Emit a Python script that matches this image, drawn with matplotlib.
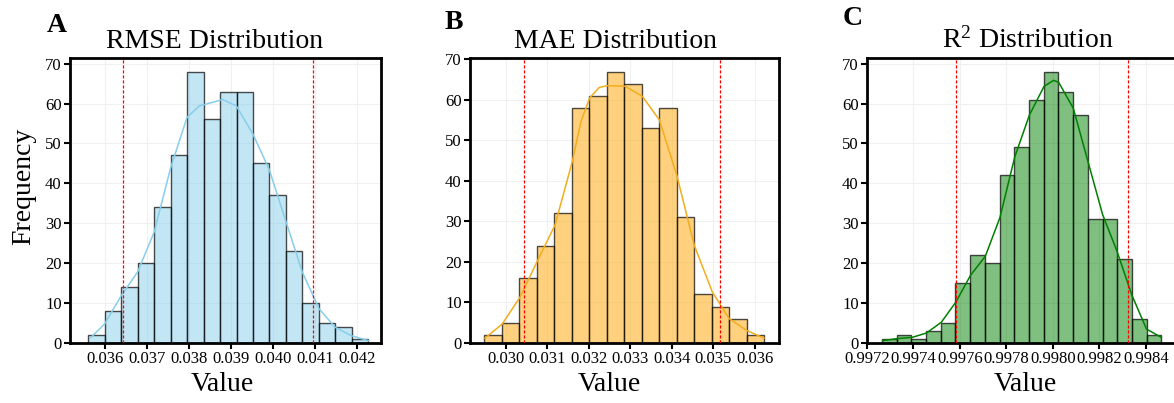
import matplotlib
matplotlib.use("Agg")
import matplotlib.pyplot as plt
import numpy as np

plt.rcParams['font.family'] = ['Liberation Serif', 'DejaVu Serif']
plt.rcParams['mathtext.fontset'] = 'custom'
plt.rcParams['mathtext.rm'] = 'Liberation Serif'
plt.rcParams['mathtext.default'] = 'regular'

# --- RMSE ---
rmse_counts = [2, 8, 14, 20, 34, 47, 68, 56, 63, 63, 45, 37, 23, 10, 5, 4, 1]
rmse_range = (0.035603, 0.042262)
rmse_ci = (0.036440, 0.040955)
rmse_kde_x = [0.035667, 0.035993, 0.036388, 0.036777, 0.037173, 0.037562, 0.037950,
              0.038243, 0.038561, 0.038797, 0.039123, 0.039520, 0.039908, 0.040304,
              0.040692, 0.041089, 0.041477, 0.041867, 0.042262]
rmse_kde_y = [1.4, 4.8, 11.9, 17.8, 27.9, 43.9, 56.5, 59.4, 60.3, 61.0, 59.4, 52.3,
              43.4, 30.4, 17.8, 8.6, 3.9, 1.8, 0.6]
rmse_ticks = [0.036, 0.037, 0.038, 0.039, 0.040, 0.041, 0.042]

# --- MAE ---
mae_counts = [2, 5, 16, 24, 32, 58, 61, 67, 64, 53, 58, 31, 12, 9, 6, 2]
mae_range = (0.029479, 0.036217)
mae_ci = (0.030448, 0.035158)
mae_kde_x = [0.029502, 0.029918, 0.030344, 0.030770, 0.031187, 0.031603, 0.031812,
             0.032022, 0.032253, 0.032445, 0.032871, 0.033288, 0.033697, 0.034116,
             0.034539, 0.034972, 0.035381, 0.035800, 0.036217]
mae_kde_y = [1.2, 4.7, 11.3, 20.4, 29.1, 44.8, 54.7, 60.5, 63.1, 63.5, 63.4, 60.9,
             55.1, 41.5, 24.1, 12.6, 6.0, 3.1, 1.2]
mae_ticks = [0.030, 0.031, 0.032, 0.033, 0.034, 0.035, 0.036]

# --- R2 ---
r2_counts = [1, 2, 1, 3, 5, 15, 22, 20, 42, 49, 61, 68, 63, 57, 31, 31, 21, 6, 2]
r2_range = (0.997264, 0.998467)
r2_ci = (0.997584, 0.998323)
r2_kde_x = [0.997267, 0.997331, 0.997394, 0.997456, 0.997520, 0.997583, 0.997646,
            0.997709, 0.997772, 0.997836, 0.997899, 0.997962, 0.998003, 0.998025,
            0.998088, 0.998150, 0.998214, 0.998276, 0.998340, 0.998403, 0.998467]
r2_kde_y = [0.6, 1.1, 1.4, 2.5, 5.2, 10.3, 17.0, 21.7, 31.4, 46.6, 57.1, 64.3, 65.8,
            65.3, 58.8, 45.7, 32.2, 23.0, 12.0, 3.5, 1.4]
r2_ticks = [0.9972, 0.9974, 0.9976, 0.9978, 0.9980, 0.9982, 0.9984]

W, H = 1174, 403
fig = plt.figure(figsize=(W / 100, H / 100), dpi=100)


def px(x, y):
    return x / W, 1 - y / H


panels = [
    dict(counts=rmse_counts, rng=rmse_range, ci=rmse_ci, kx=rmse_kde_x, ky=rmse_kde_y,
         ticks=rmse_ticks, fmt='{:.3f}', color='skyblue', line='skyblue',
         xlim=(0.035168, 0.042564), box=(70, 381), letter='A', lpos=(47, 32),
         title='RMSE Distribution', tpos=215, vpos=222),
    dict(counts=mae_counts, rng=mae_range, ci=mae_ci, kx=mae_kde_x, ky=mae_kde_y,
         ticks=mae_ticks, fmt='{:.3f}', color='orange', line='#f2ad1c',
         xlim=(0.029141, 0.036578), box=(470, 779), letter='B', lpos=(445, 29),
         title='MAE Distribution', tpos=616, vpos=609),
    dict(counts=r2_counts, rng=r2_range, ci=r2_ci, kx=r2_kde_x, ky=r2_kde_y,
         ticks=r2_ticks, fmt='{:.4f}', color='green', line='green',
         xlim=(0.997206, 0.998530), box=(867, 1176), letter='C', lpos=(843, 25),
         title='R$^2$ Distribution', tpos=1028, vpos=1025),
]

top, bottom = 58, 343
for p in panels:
    x0, x1 = p['box']
    ax = fig.add_axes([x0 / W, (H - bottom) / H, (x1 - x0) / W, (bottom - top) / H])
    counts = np.array(p['counts'])
    edges = np.linspace(p['rng'][0], p['rng'][1], len(counts) + 1)
    ax.bar(edges[:-1], counts, width=np.diff(edges), align='edge',
           color=matplotlib.colors.to_rgba(p['color'], 0.5),
           edgecolor=(0, 0, 0, 0.7), linewidth=1.0, zorder=2)
    ax.plot(p['kx'], p['ky'], color=p['line'], linewidth=1.1, zorder=3)
    for v in p['ci']:
        ax.axvline(v, color='red', linestyle='--', linewidth=0.9, dashes=(2.5, 1.5), zorder=4)

    ax.set_xlim(p['xlim'])
    ax.set_ylim(0, counts.max() * 1.05)
    ax.set_xticks(p['ticks'])
    ax.set_xticklabels([p['fmt'].format(t) for t in p['ticks']])
    ax.set_yticks(range(0, 71, 10))
    ax.grid(True, color='#f0f0f0', linewidth=0.8, zorder=0)
    ax.set_axisbelow(True)
    for s in ax.spines.values():
        s.set_linewidth(2.0)
        s.set_color('black')
    ax.tick_params(axis='both', direction='out', length=4, width=1.5, pad=2,
                   labelsize=12, colors='black')

    fig.text(*px(*p['lpos']), p['letter'], fontsize=20, fontweight='bold',
             ha='left', va='baseline')
    fig.text(*px(p['tpos'], 48), p['title'], fontsize=20, ha='center', va='baseline')
    fig.text(*px(p['vpos'], 391), 'Value', fontsize=20, ha='center', va='baseline')

fig.text(*px(23.3, 186.5), 'Frequency', fontsize=20, rotation=90, ha='center', va='center')

fig.savefig('out.png', dpi=100)
